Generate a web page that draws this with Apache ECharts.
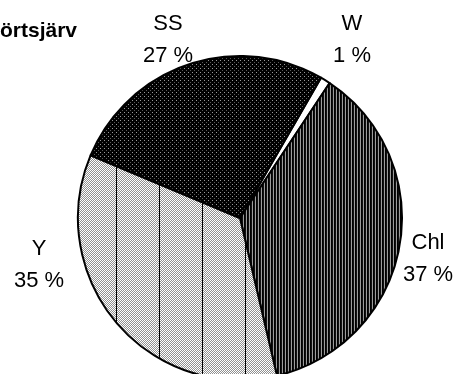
<!DOCTYPE html>
<html>
<head>
<meta charset="utf-8">
<style>
  html, body { margin: 0; padding: 0; background: #fff; }
  #chart { width: 460px; height: 374px; }
</style>
<script src="https://cdn.jsdelivr.net/npm/echarts@6/dist/echarts.min.js"></script>
</head>
<body>
<div id="chart"></div>
<script>
// Share of each component (%)
const categories = ['W', 'Chl', 'Y', 'SS'];
const shares = [1, 37, 35, 27];
const titleText = 'örtsjärv';

// Label anchor points, one per slice
const labelPos = [[352, 40], [428, 259], [39, 265], [168, 40]];

// Build a small repeating pixel tile for hatched fills
function makeTile(w, h, painter) {
  const c = document.createElement('canvas');
  c.width = w; c.height = h;
  const ctx = c.getContext('2d');
  painter(ctx, w, h);
  return { image: c, repeat: 'repeat' };
}
function px(ctx, x, y, col) { ctx.fillStyle = col; ctx.fillRect(x, y, 1, 1); }

// dark dotted grid
const ssFill = makeTile(4, 4, (ctx) => {
  ctx.fillStyle = '#000'; ctx.fillRect(0, 0, 4, 4);
  px(ctx, 0, 0, '#9a9a9a');
  px(ctx, 2, 2, '#5a5a5a');
});
// dense vertical stripes
const chlFill = makeTile(3, 1, (ctx) => {
  px(ctx, 0, 0, '#9c9c9c');
  px(ctx, 1, 0, '#000');
  px(ctx, 2, 0, '#111');
});
// light checker with widely spaced vertical rules
const yFill = makeTile(86, 2, (ctx, w, h) => {
  for (let x = 0; x < w; x++) {
    for (let y = 0; y < h; y++) {
      px(ctx, x, y, (x + y) % 2 === 0 ? '#ffffff' : '#909090');
    }
  }
  ctx.fillStyle = '#000';
  ctx.fillRect(30, 0, 1, h);
  ctx.fillRect(73, 0, 1, h);
});
const fills = [ '#ffffff', chlFill, yFill, ssFill ];

const chart = echarts.init(document.getElementById('chart'), null, { renderer: 'canvas' });
chart.setOption({
  animation: false,
  backgroundColor: '#ffffff',
  title: {
    text: titleText,
    left: -5,
    top: 16,
    textStyle: {
      fontFamily: 'Liberation Sans, Arial, sans-serif',
      fontWeight: 'bold',
      fontSize: 21,
      color: '#000'
    }
  },
  series: [{
    type: 'pie',
    center: [240, 218],
    radius: 162,
    startAngle: 60,
    clockwise: true,
    avoidLabelOverlap: false,
    data: categories.map((name, i) => ({
      name,
      value: shares[i],
      itemStyle: { color: fills[i] }
    })),
    itemStyle: { borderColor: '#000', borderWidth: 2 },
    emphasis: { disabled: true },
    labelLine: { show: false },
    label: {
      show: true,
      position: 'outside',
      formatter: (p) => p.name + '\n' + p.value + ' %',
      fontFamily: 'Liberation Sans, Arial, sans-serif',
      fontSize: 22,
      lineHeight: 32,
      color: '#000',
      align: 'center'
    },
    labelLayout: (params) => ({
      x: labelPos[params.dataIndex][0],
      y: labelPos[params.dataIndex][1],
      align: 'center',
      verticalAlign: 'middle'
    })
  }]
});
</script>
</body>
</html>
